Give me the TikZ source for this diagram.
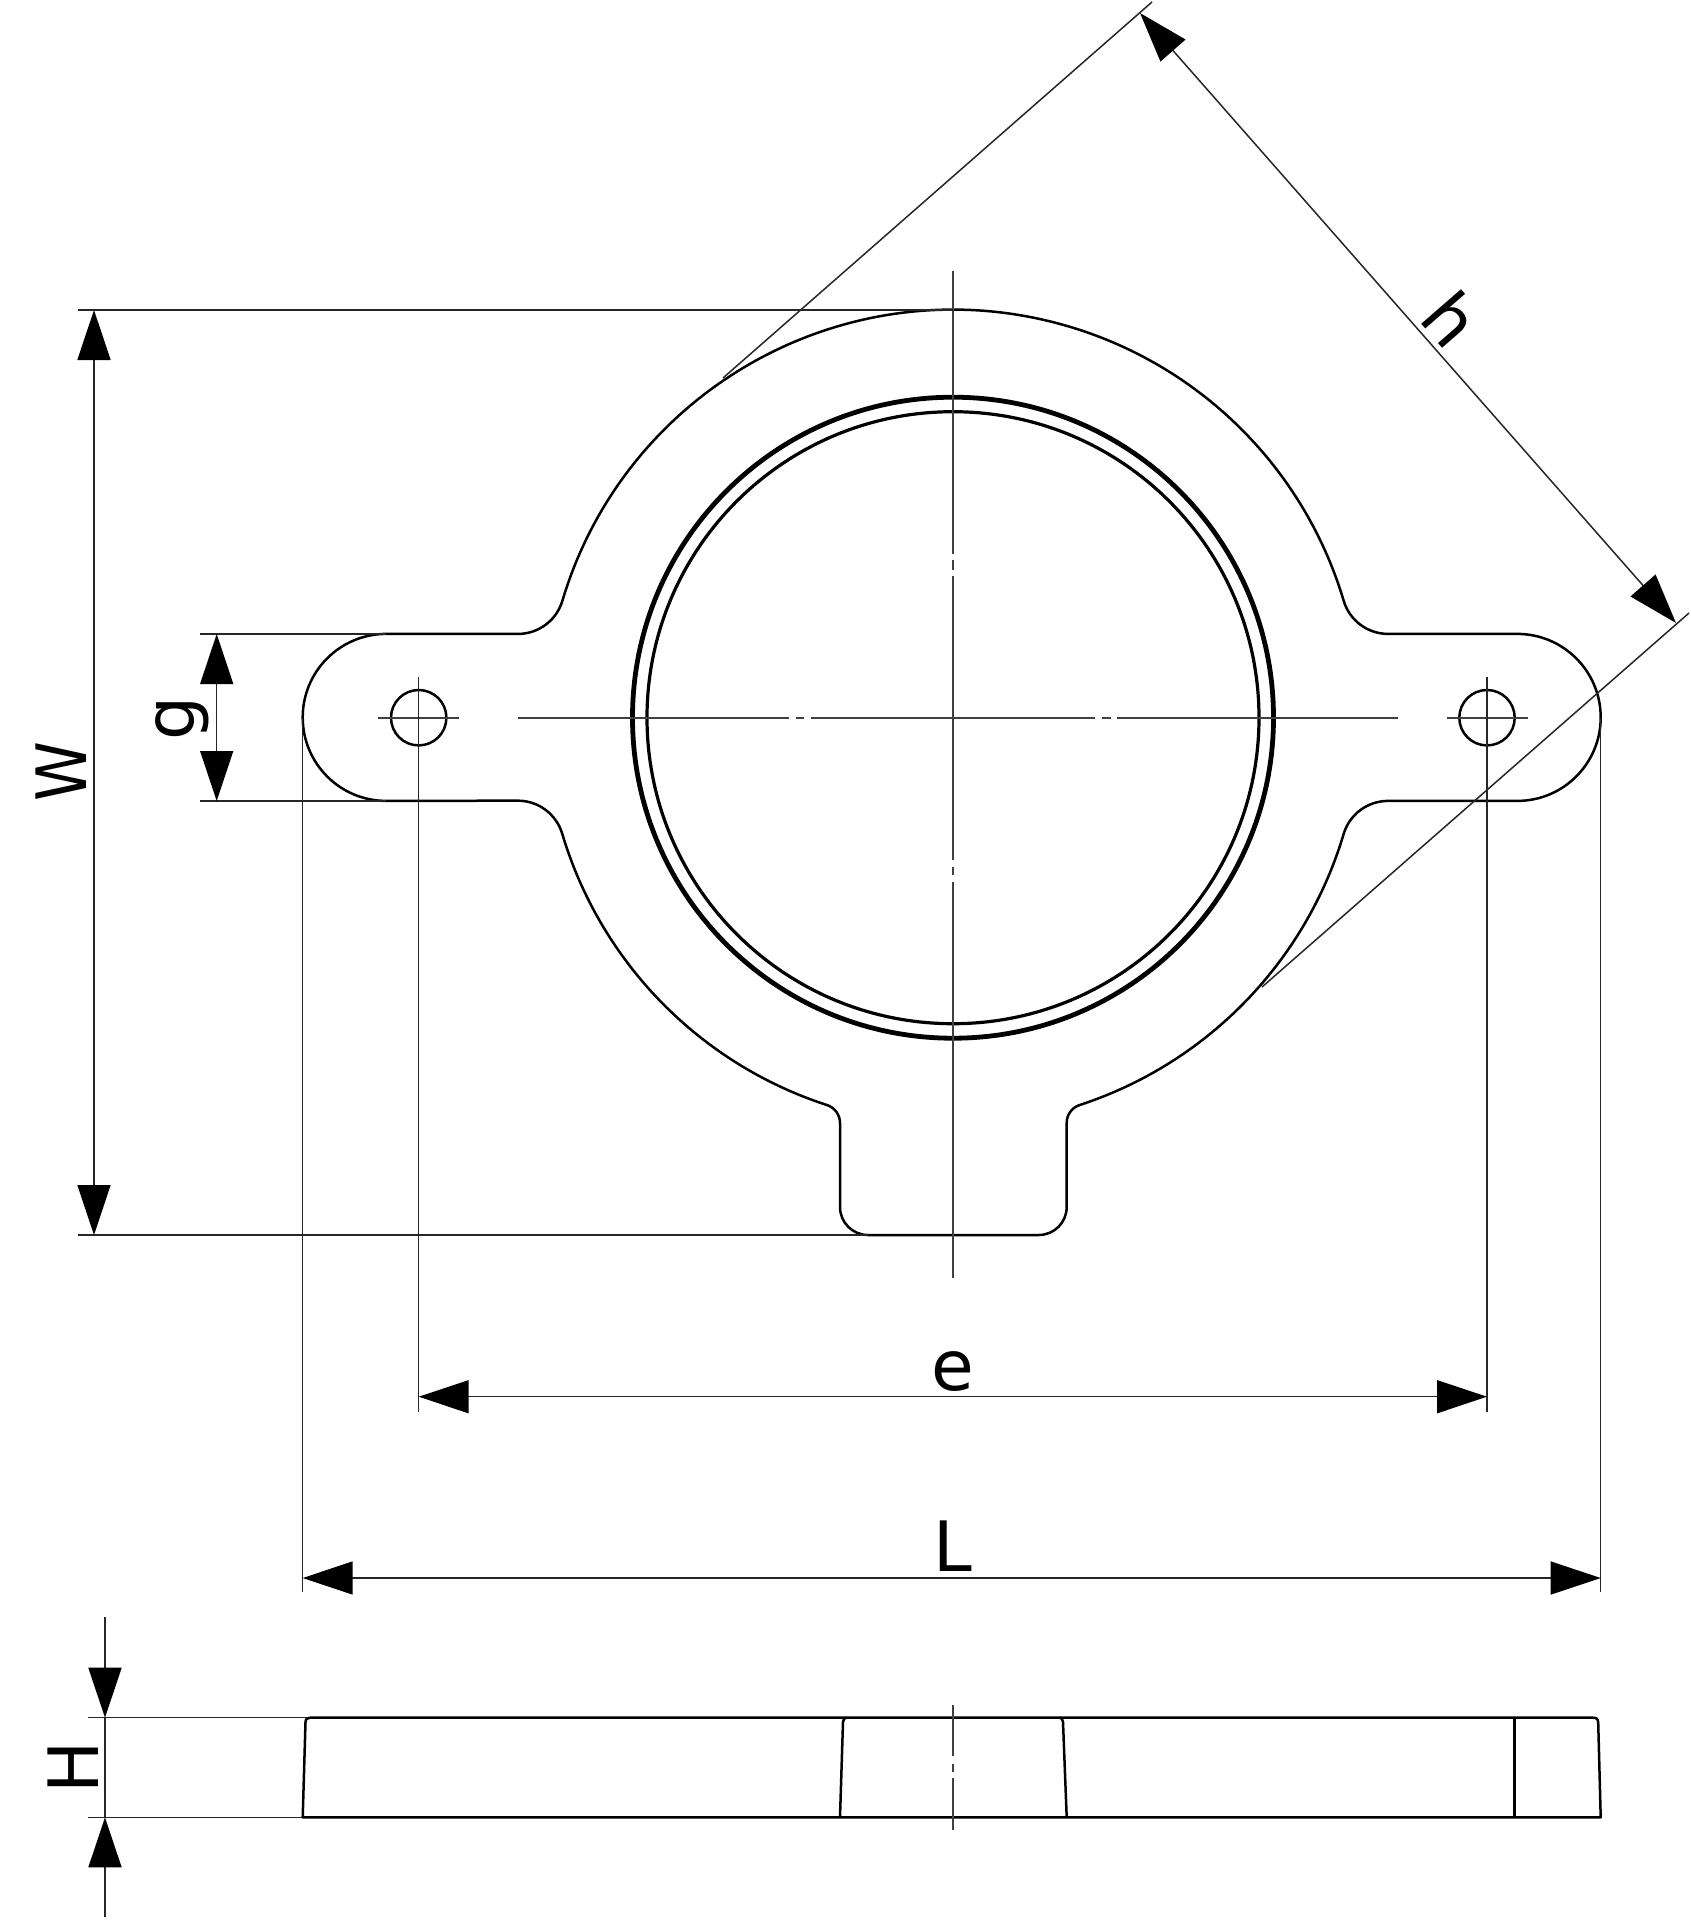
\documentclass[tikz,border=0pt]{standalone}
\usepackage{graphicx}
\usepackage{fontspec}
\setmainfont{DejaVu Sans}
\usetikzlibrary{arrows.meta}
\tikzset{
  thinline/.style={line width=1.5pt,draw=black!85},
  axisline/.style={line width=1.8pt,draw=black!75},
  outline/.style={line width=2.5pt,draw=black,line join=round},
  dimarrow/.style={thinline,-{Triangle[length=50pt,width=33pt,fill=black,color=black]}},
  dimboth/.style={thinline,{Triangle[length=50pt,width=33pt,fill=black,color=black]}-{Triangle[length=50pt,width=33pt,fill=black,color=black]}},
  dimlabel/.style={inner sep=0pt,outer sep=0pt,font=\fontsize{69.5}{70}\selectfont}
}
\begin{document}
\begin{tikzpicture}[x=1pt,y=1pt,yscale=-1]
\useasboundingbox (0,0) rectangle (1691,1920);
% named reference points
\coordinate (C) at (953,717.7);
\coordinate (wTop) at (94,310);
\coordinate (wBot) at (94,1235);
\coordinate (gTop) at (216.7,634);
\coordinate (gBot) at (216.7,801);
\coordinate (eL) at (418.7,1396.7);
\coordinate (eR) at (1487,1396.7);
\coordinate (lL) at (302.7,1578);
\coordinate (lR) at (1600.7,1578);
\coordinate (hA) at (1140,13);
\coordinate (hB) at (1676,623);
\coordinate (hTop) at (105,1717.7);
\coordinate (hBot) at (105,1817.3);

% plate outline
\draw[outline] (386.2,633.9) -- (518,633.9)
  arc[start angle=90,end angle=16.7,radius=46.3]
  arc[start angle=196.6,end angle=343.4,radius=407.7]
  arc[start angle=163.3,end angle=90,radius=46.3]
  -- (1517.2,633.9)
  arc[start angle=-90,end angle=90,radius=83.5]
  -- (1388,800.9)
  arc[start angle=270,end angle=196.6,radius=46.3]
  arc[start angle=16.6,end angle=71.9,radius=407.7]
  arc[start angle=252,end angle=180,radius=18.7]
  -- (1066.7,1207)
  arc[start angle=0,end angle=90,radius=28]
  -- (868,1235)
  arc[start angle=90,end angle=180,radius=28]
  -- (840,1123)
  arc[start angle=0,end angle=-72,radius=18.9]
  arc[start angle=108,end angle=163.4,radius=407.7]
  arc[start angle=-16.6,end angle=-90,radius=46.3]
  -- (386.2,800.9)
  arc[start angle=90,end angle=270,radius=83.5]
  -- cycle;

% bore
\draw[line width=4.8pt] (C) circle[radius=320.5];
\draw[line width=3.2pt] (C) circle[radius=306];
% bolt holes
\draw[outline] (418.7,717.7) circle[radius=27.7];
\draw[outline] (1487,717.7) circle[radius=27.7];
\draw[axisline] (378,717.7) -- (459,717.7);
\draw[axisline] (1446.7,717.7) -- (1527.7,717.7);

% centre lines
\draw[axisline] (953,271) -- (953,554) (953,560) -- (953,569.5) (953,575.7) -- (953,860)
  (953,866.7) -- (953,875) (953,881.7) -- (953,1278);
\draw[axisline] (517.7,717.7) -- (789.3,717.7) (795.7,717.7) -- (804.3,717.7)
  (810.7,717.7) -- (1095,717.7) (1101.7,717.7) -- (1110.7,717.7) (1116.7,717.7) -- (1398,717.7);

% extension lines
\draw[thinline] (78,310) -- (953,310) (78,1235) -- (868,1235);
\draw[thinline] (200,634) -- (386,634) (200,801) -- (386,801);
\draw[thinline] (418.7,677) -- (418.7,1412) (1487,677) -- (1487,1412);
\draw[thinline] (302.7,718) -- (302.7,1592) (1600.7,718) -- (1600.7,1592);
\draw[thinline] (723,378) -- (1152,2) (1262,987) -- (1689,613);
\draw[thinline] (88,1717.7) -- (310,1717.7) (88,1817.3) -- (302.7,1817.3);

% dimensions
\draw[dimboth] (wTop) -- (wBot);
\draw[dimboth] (gTop) -- (gBot);
\draw[dimboth] (eL) -- (eR);
\draw[dimboth] (lL) -- (lR);
\draw[dimboth] (hA) -- (hB);
\coordinate (hUp) at (105,1617);
\coordinate (hDn) at (105,1917);
\draw[dimarrow] (hUp) -- (hTop);
\draw[dimarrow] (hDn) -- (hBot);
\draw[thinline] (hTop) -- (hBot);

% labels
\node[dimlabel,rotate=90] (lblW) at (61.4,772) {\scalebox{.87}[1]{W}};
\node[dimlabel,rotate=90] (lblg) at (182.7,718) {g};
\node[dimlabel] (lble) at (953,1372) {e};
\node[dimlabel] (lblL) at (953,1546) {L};
\node[dimlabel,rotate=90] (lblH) at (72.7,1767) {H};
\node[dimlabel,rotate=-49] (lblh) at (1452,319) {h};

% side view
\draw[outline] (302.7,1817.3) -- (305.5,1722.5) .. controls (305.6,1719) and (307,1717.7) .. (310,1717.7)
  -- (1593,1717.7) .. controls (1596.5,1717.7) and (1598,1719) .. (1598.2,1722.5)
  -- (1600.7,1817.3) -- cycle;
\draw[outline] (840,1817.3) -- (843,1722) .. controls (843.1,1719.5) and (844.5,1717.7) .. (846.5,1717.7);
\draw[outline] (1066.7,1817.3) -- (1063,1722) .. controls (1062.9,1719.5) and (1061.5,1717.7) .. (1059.5,1717.7);
\draw[outline] (1514.3,1717.7) -- (1514.3,1817.3);
\draw[axisline] (953,1705) -- (953,1756) (953,1764) -- (953,1771.7) (953,1778) -- (953,1830);
\end{tikzpicture}
\end{document}
